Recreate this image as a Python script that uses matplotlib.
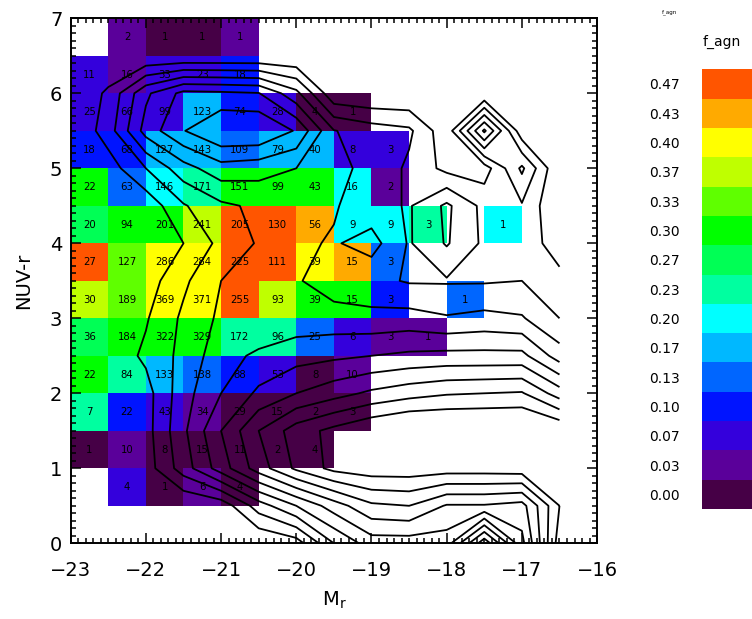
import numpy as np
import matplotlib
matplotlib.use('Agg')
import matplotlib.pyplot as plt
from matplotlib.colors import ListedColormap, BoundaryNorm
from matplotlib.ticker import MultipleLocator

nan = np.nan

# f_agn map: 0.5 mag x 0.5 colour bins, rows from NUV-r = 6.75 down to 0.75
mr_edges = np.arange(-23.0, -16.9, 0.5)
nuvr_edges = np.arange(0.5, 7.01, 0.5)

fagn_rows = [
    [nan, .03, .00, .00, .03, nan, nan, nan, nan, nan, nan, nan],
    [.07, .03, .07, .07, .10, nan, nan, nan, nan, nan, nan, nan],
    [.07, .07, .07, .17, .10, .07, .00, .00, nan, nan, nan, nan],
    [.10, .10, .17, .17, .13, .17, .17, .07, .07, nan, nan, nan],
    [.30, .13, .20, .23, .30, .30, .30, .20, .03, nan, nan, nan],
    [.27, .30, .30, .37, .47, .47, .43, .20, .20, .23, nan, .20],
    [.47, .33, .40, .40, .47, .47, .40, .43, .13, nan, nan, nan],
    [.37, .33, .40, .40, .47, .37, .30, .30, .10, nan, .13, nan],
    [.27, .30, .30, .30, .23, .23, .13, .07, .03, .03, nan, nan],
    [.30, .23, .17, .13, .10, .07, .00, .03, nan, nan, nan, nan],
    [.23, .10, .07, .03, .00, .00, .00, .00, nan, nan, nan, nan],
    [.00, .03, .00, .00, .00, .00, .00, nan, nan, nan, nan, nan],
    [nan, .07, .00, .03, .00, nan, nan, nan, nan, nan, nan, nan],
]

count_rows = [
    [nan, 2, 1, 1, 1, nan, nan, nan, nan, nan, nan, nan],
    [11, 16, 33, 23, 18, nan, nan, nan, nan, nan, nan, nan],
    [25, 66, 99, 123, 74, 28, 4, 1, nan, nan, nan, nan],
    [18, 68, 127, 143, 109, 79, 40, 8, 3, nan, nan, nan],
    [22, 63, 146, 171, 151, 99, 43, 16, 2, nan, nan, nan],
    [20, 94, 201, 241, 205, 130, 56, 9, 9, 3, nan, 1],
    [27, 127, 286, 284, 225, 111, 39, 15, 3, nan, nan, nan],
    [30, 189, 369, 371, 255, 93, 39, 15, 3, nan, 1, nan],
    [36, 184, 322, 329, 172, 96, 25, 6, 3, 1, nan, nan],
    [22, 84, 133, 138, 88, 53, 8, 10, nan, nan, nan, nan],
    [7, 22, 43, 34, 29, 15, 2, 3, nan, nan, nan, nan],
    [1, 10, 8, 15, 11, 2, 4, nan, nan, nan, nan, nan],
    [nan, 4, 1, 6, 4, nan, nan, nan, nan, nan, nan, nan],
]

# full sample density used for the contours, rows from NUV-r = 7 down to 0
dens_x = np.arange(-23.0, -16.4, 0.5)
dens_y = np.arange(0.0, 7.01, 0.5)
dens_rows = [
    [0, 0, 0, 0, 0, 0, 0, 0, 0, 0, 0, 0, 0, 0],
    [0, 0, 0, 0, 0, 0, 0, 0, 0, 0, 0, 0, 0, 0],
    [0, 1.2, 3.8, 5.3, 5.2, 5.05, 3.3, 0.2, 0, 0, 0, 0, 0, 0],
    [0, 1.5, 4.4, 5.95, 7.0, 7.0, 5.9, 3.05, 2.5, 2.2, 0.3, 5.2, 0.3, 0],
    [0, 0.5, 2.0, 3.6, 4.6, 4.4, 4.0, 3.2, 2.8, 1.8, 0.7, 0.5, 3.2, 0],
    [0, 0, 0.3, 1.9, 2.8, 3.2, 3.3, 3.1, 2.4, 1.9, 3.2, 1.7, 1.9, 0],
    [0, 0, 0.2, 1.0, 2.3, 3.1, 3.2, 2.9, 3.4, 1.9, 3.1, 1.8, 1.6, 0.5],
    [0, 0, 0.5, 1.8, 3.0, 3.3, 3.1, 2.5, 2.3, 1.9, 1.9, 1.9, 2.0, 1.3],
    [0, 0, 0.9, 2.2, 3.2, 3.1, 3.4, 3.4, 3.3, 3.4, 3.1, 3.3, 3.1, 2.0],
    [0, 0.3, 1.2, 2.3, 3.6, 4.2, 4.6, 4.8, 5.0, 5.2, 5.3, 5.3, 5.3, 3.5],
    [0, 0, 0.6, 2.6, 4.0, 5.2, 6.0, 6.6, 7.2, 7.6, 7.9, 8.0, 8.1, 6.5],
    [0, 0, 0.6, 2.8, 5.0, 7.0, 8.5, 9.3, 10.0, 10.5, 10.5, 10.5, 10.5, 10.0],
    [0, 0, 0.5, 2.5, 4.5, 6.5, 8.2, 9.3, 9.6, 9.6, 9.5, 9.5, 9.6, 10.0],
    [0, 0, 0, 0, 0.33, 2.5, 4.0, 5.5, 6.8, 7.0, 5.9, 5.9, 5.6, 9.0],
    [0, 0, 0, 0, 0, 0, 0.5, 3.0, 4.5, 4.5, 4.5, 0.3, 4.7, 9.5],
]
dens_levels = [1, 2, 3, 4, 5, 6, 7, 8, 9]

band_colors = ['#460046', '#5a009a', '#3400dc', '#0014ff', '#0066ff',
               '#00b8ff', '#00ffff', '#00ffa0', '#00ff55', '#00ff00',
               '#5fff00', '#bfff00', '#ffff00', '#ffaa00', '#ff5500']
band_ticks = np.arange(15) / 30.0

fig = plt.figure(figsize=(7.52, 6.19), dpi=100)
ax = fig.add_axes([0.094, 0.1223, 0.7, 0.8481])

cmap = ListedColormap(band_colors)
norm = BoundaryNorm((np.arange(16) - 0.5) / 30.0, cmap.N)
F = np.ma.masked_invalid(np.array(fagn_rows, dtype=float)[::-1])
mesh = ax.pcolormesh(mr_edges, nuvr_edges, F, cmap=cmap, norm=norm)

ax.contour(dens_x, dens_y, np.array(dens_rows)[::-1], levels=dens_levels,
           colors='k', linewidths=1.3)

C = np.array(count_rows, dtype=float)[::-1]
xc = 0.5 * (mr_edges[:-1] + mr_edges[1:])
yc = 0.5 * (nuvr_edges[:-1] + nuvr_edges[1:])
for j in range(len(yc)):
    for i in range(len(xc)):
        if not np.isnan(C[j, i]):
            ax.text(xc[i], yc[j], '%d' % C[j, i], ha='center', va='center',
                    fontsize=7.3, color='k')

ax.set_xlim(-23, -16)
ax.set_ylim(0, 7)
ax.set_xticks(range(-23, -15))
ax.set_yticks(range(0, 8))
ax.xaxis.set_minor_locator(MultipleLocator(0.1))
ax.yaxis.set_minor_locator(MultipleLocator(0.1))
ax.tick_params(which='both', direction='in', top=True, right=True, width=1.1)
ax.tick_params(which='major', length=7.2, labelsize=14)
ax.tick_params(which='minor', length=3.6)
ax.tick_params(axis='x', which='major', pad=13)
ax.tick_params(axis='y', which='major', pad=6)
for s in ax.spines.values():
    s.set_linewidth(1.4)

ax.set_xlabel(r'M$_\mathrm{r}$', fontsize=14)
ax.xaxis.set_label_coords(0.5, -0.088)
ax.set_ylabel('NUV-r', fontsize=14)
ax.yaxis.set_label_coords(-0.072, 0.5)

cax = fig.add_axes([0.9331, 0.1777, 0.1, 0.7103])
cb = fig.colorbar(mesh, cax=cax, ticks=band_ticks)
cb.ax.set_yticklabels(['%.2f' % v for v in band_ticks])
cb.outline.set_visible(False)
cax.minorticks_off()
cax.yaxis.set_ticks_position('left')
cax.tick_params(which='both', length=0, pad=15.6, labelsize=10)

fig.text(0.8896, 0.9785, 'f_agn', fontsize=4, ha='center', va='baseline')
fig.text(0.960, 0.9257, 'f_agn', fontsize=10, ha='center', va='baseline')

fig.savefig('out.png', dpi=100)
